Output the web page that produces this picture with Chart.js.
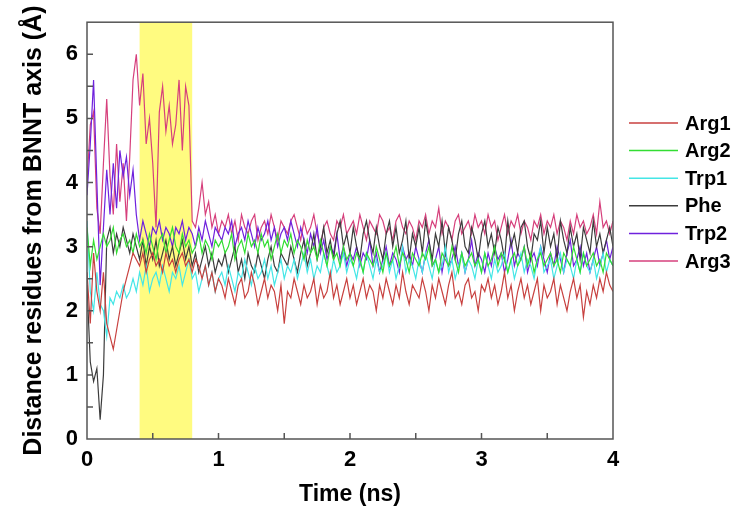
<!DOCTYPE html>
<html lang="en">
<head>
    <meta charset="UTF-8">
    <title>Distance residues from BNNT axis</title>
    <script src="https://cdn.jsdelivr.net/npm/chart.js@4.4.1/dist/chart.umd.min.js"></script>
    <style>
        html, body {
            margin: 0;
            padding: 0;
            background: #ffffff;
        }
        #wrap {
            width: 735px;
            height: 508px;
        }
    </style>
</head>
<body>
    <div id="wrap">
        <canvas id="distance-chart" width="735" height="508"></canvas>
    </div>

    <script>
        // sampling of the trajectory (ns)
        const timeStepNs = 0.025;
        const bandStart = 0.4;
        const bandEnd = 0.8;

        const seriesNames = ['Arg1', 'Arg2', 'Trp1', 'Phe', 'Trp2', 'Arg3'];
        const seriesColors = ['#c8413f', '#33dd33', '#44e6e6', '#3c3c3c', '#6f22dd', '#d6407c'];
        const xTicks = [0, 1, 2, 3, 4];
        const yTicks = [0, 1, 2, 3, 4, 5, 6];

        const arg1 = [
            2.6, 1.8, 2.9, 2.3, 2.0, 2.6, 1.8, 1.6, 1.4, 1.7, 2.0, 2.3, 2.5, 2.7, 2.9, 2.8, 2.7, 2.9, 2.6, 2.8,
            2.9, 2.7, 2.8, 2.6, 2.9, 2.7, 2.8, 2.6, 2.8, 2.9, 2.7, 2.8, 2.6, 2.8, 2.7, 2.5, 2.7, 2.4, 2.6, 2.3,
            2.5,
            2.4, 2.2, 2.5, 2.3, 2.1, 2.4, 2.5, 2.2, 2.3, 2.6, 2.4, 2.1, 2.3, 2.5, 2.2, 2.4, 2.3, 2.0, 2.4, 1.8,
            2.3, 2.2, 2.5, 2.3, 2.1, 2.4, 2.2, 2.3, 2.5, 2.1, 2.4, 2.2, 2.3, 2.6, 2.2, 2.4, 2.1, 2.3, 2.5, 2.2,
            2.4, 2.1, 2.3, 2.5, 2.2, 2.4, 2.3, 2.0, 2.4, 2.2, 2.5, 2.3, 2.1, 2.4, 2.2, 2.6, 2.3, 2.1, 2.4, 2.3,
            2.2, 2.5, 2.3, 2.0, 2.4, 2.2, 2.5, 2.3, 2.1, 2.4, 2.6, 2.2, 2.3, 2.1, 2.4, 2.5, 2.2, 2.3, 2.0, 2.4,
            2.3, 2.5, 2.2, 2.4, 2.1, 2.3, 2.6, 2.2, 2.4, 2.0, 2.3, 2.5, 2.2, 2.4, 2.1, 2.3, 2.5, 2.0, 2.4, 2.2,
            2.3, 2.5, 2.1, 2.4, 2.2, 2.0, 2.3, 2.5, 2.2, 2.4, 1.9, 2.3, 2.1, 2.4, 2.2, 2.5, 2.3, 2.6, 2.4, 2.3
        ];
        const arg2 = [
            3.3, 2.7, 3.1, 2.8, 3.0, 3.2, 3.0, 3.1, 3.3, 2.9, 3.1, 3.2, 3.0, 3.1, 2.9, 3.2, 3.0, 3.1, 2.9, 3.2,
            3.0, 2.8, 3.1, 3.2, 2.9, 3.1, 3.3, 3.0, 2.9, 3.2, 3.0, 3.1, 2.9, 3.0, 3.2, 2.9, 3.1, 3.0, 2.8, 3.1,
            3.0,
            3.1, 2.9, 3.0, 3.2, 2.8, 3.0, 3.1, 2.9, 3.2, 3.0, 3.1, 2.9, 3.2, 3.0, 3.1, 2.8, 3.0, 3.2, 2.9, 3.1,
            3.0, 3.2, 2.9, 3.1, 3.0, 2.8, 3.1, 2.9, 3.0, 2.8, 3.1, 2.9, 2.7, 3.0, 2.8, 2.9, 2.7, 3.0, 2.8, 2.9,
            2.7, 2.9, 2.8, 2.6, 2.9, 2.8, 2.7, 3.0, 2.8, 2.6, 2.9, 2.7, 2.8, 3.0, 2.7, 2.9, 2.8, 2.6, 2.9, 2.8,
            2.7, 2.9, 2.8, 3.0, 2.7, 2.8, 2.6, 2.9, 2.8, 2.7, 3.0, 2.8, 2.6, 2.9, 2.7, 2.8, 2.9, 2.7, 2.8, 2.6,
            2.9, 2.7, 2.8, 3.0, 2.7, 2.9, 2.8, 2.6, 2.8, 2.9, 2.7, 2.8, 3.0, 2.7, 2.9, 2.6, 2.8, 2.9, 2.7, 2.8,
            2.9, 2.7, 2.8, 2.6, 2.9, 2.8, 2.7, 3.0, 2.8, 2.6, 2.9, 2.7, 2.8, 2.9, 2.7, 2.8, 2.6, 2.9, 2.8, 2.7
        ];
        const trp1 = [
            3.4, 2.3, 2.0, 2.6, 2.1, 2.0, 1.6, 2.2, 2.1, 2.3, 2.2, 2.4, 2.2, 2.3, 2.5, 2.3, 2.6, 2.4, 2.7, 2.3,
            2.5, 2.6, 2.4, 2.7, 2.5, 2.3, 2.6, 2.5, 2.7, 2.4, 2.6, 2.8, 2.5, 2.6, 2.3, 2.5, 2.7, 2.4, 2.6, 2.3,
            2.5,
            2.6, 2.4, 2.7, 2.5, 2.3, 2.6, 2.5, 2.8, 2.6, 2.4, 2.7, 2.5, 2.6, 2.8, 2.5, 2.7, 2.4, 2.6, 2.8, 2.5,
            2.7, 2.6, 2.8, 2.5, 2.7, 2.9, 2.6, 2.8, 2.5, 2.7, 2.6, 2.9, 2.7, 2.5, 2.8, 2.6, 2.7, 2.9, 2.6, 2.8,
            2.7, 2.5, 2.8, 2.6, 2.9, 2.7, 2.5, 2.8, 2.6, 2.7, 2.9, 2.6, 2.8, 2.5, 2.7, 3.0, 2.6, 2.8, 2.7, 2.5,
            2.8, 2.6, 2.9, 2.7, 2.5, 2.8, 2.6, 2.7, 3.0, 2.6, 2.8, 2.5, 2.7, 2.9, 2.6, 2.8, 2.7, 2.5, 2.8, 2.6,
            2.9, 2.7, 2.5, 2.8, 2.6, 2.7, 2.9, 2.6, 2.8, 2.5, 2.7, 2.9, 2.6, 2.8, 2.7, 2.5, 2.8, 3.0, 2.6, 2.7,
            2.8, 2.5, 2.7, 2.9, 2.6, 2.8, 2.7, 2.5, 2.8, 2.6, 2.9, 2.7, 2.6, 2.8, 2.5, 2.7, 2.9, 2.6, 2.8, 2.7
        ];
        const phe = [
            2.4, 1.2, 0.9, 1.1, 0.3, 1.0, 3.1, 3.3, 2.9, 3.2, 3.0, 3.3, 3.1, 2.9, 3.2, 3.0, 2.8, 3.1, 2.7, 3.0,
            2.8, 3.1, 2.7, 2.9, 3.1, 2.8, 3.0, 2.7, 2.9, 3.1, 2.8, 3.0, 2.7, 2.9, 2.6, 2.8, 3.0, 2.7, 2.9, 2.6,
            2.8,
            2.7, 2.9, 2.6, 2.8, 3.0, 2.6, 2.8, 2.5, 2.9, 2.7, 2.6, 2.9, 2.7, 2.5, 2.8, 3.0, 2.7, 2.6, 2.9, 2.8,
            2.7, 3.0, 2.8, 2.6, 2.9, 3.1, 2.7, 2.9, 3.2, 2.8, 3.0, 3.3, 2.9, 3.1, 2.8, 3.2, 3.4, 3.0, 3.2, 2.9,
            3.3, 3.0, 2.8, 3.2, 3.4, 3.1, 2.9, 3.3, 3.0, 2.8, 3.2, 3.4, 3.0, 3.3, 2.9, 3.1, 3.4, 2.8, 3.2, 3.0,
            3.3, 2.9, 3.4, 3.1, 2.8, 3.2, 3.0, 3.4, 2.9, 3.3, 3.1, 2.8, 3.2, 3.4, 3.0, 2.9, 3.3, 3.1, 2.8, 3.2,
            3.4, 3.0, 3.2, 2.9, 3.3, 3.1, 2.8, 3.4, 3.0, 3.2, 2.9, 3.3, 3.4, 3.0, 2.8, 3.2, 3.1, 3.4, 2.9, 3.3,
            3.0, 3.2, 2.8, 3.4, 3.1, 2.9, 3.3, 3.0, 3.2, 2.8, 3.3, 3.1, 2.9, 3.4, 3.0, 3.2, 2.9, 3.1, 3.3, 3.0
        ];
        const trp2 = [
            3.8, 4.6, 5.6, 4.0, 2.4, 3.3, 4.2, 3.5, 4.3, 3.6, 4.5, 4.1, 4.4, 3.8, 4.2, 3.5, 3.1, 3.4, 3.2, 3.0,
            3.3, 3.2, 3.4, 3.1, 3.3, 3.2, 3.0, 3.3, 3.2, 3.4, 3.1, 3.3, 3.2, 3.0, 3.3, 3.1, 3.4, 3.2, 3.0, 3.3,
            3.2,
            3.1, 3.3, 3.2, 3.4, 3.0, 3.2, 3.3, 3.1, 3.4, 3.2, 3.0, 3.3, 3.1, 3.2, 3.4, 3.1, 3.3, 3.0, 3.2, 3.3,
            3.1, 3.4, 3.2, 3.0, 3.3, 3.1, 2.9, 3.2, 3.0, 3.3, 2.9, 3.1, 2.8, 3.0, 2.9, 3.2, 2.8, 3.0, 2.7, 2.9,
            2.8, 3.0, 2.7, 2.9, 2.8, 3.1, 2.7, 2.9, 2.6, 2.8, 3.0, 2.7, 2.9, 2.8, 2.6, 3.0, 2.8, 2.9, 2.7, 3.0,
            2.8, 2.6, 2.9, 3.1, 2.7, 2.8, 3.0, 2.6, 2.9, 2.7, 2.8, 3.0, 2.7, 2.9, 2.6, 2.8, 3.1, 2.7, 2.9, 2.8,
            2.6, 2.9, 2.7, 3.0, 2.8, 2.9, 2.6, 2.8, 3.1, 2.7, 2.9, 2.8, 3.0, 2.6, 2.8, 2.9, 2.7, 3.0, 2.8, 2.6,
            2.9, 2.7, 3.0, 2.8, 2.6, 2.9, 3.1, 2.7, 2.8, 3.0, 2.7, 2.9, 2.6, 2.8, 3.0, 2.7, 2.9, 3.1, 2.8, 3.0
        ];
        const arg3 = [
            4.0, 4.9, 5.1, 3.6, 3.2, 4.3, 5.3, 4.1, 3.5, 4.6, 3.7, 4.3, 3.4, 4.4, 5.6, 6.0, 5.2, 5.7, 4.6, 5.0,
            4.3, 3.3, 5.1, 5.5, 4.8, 5.2, 4.6, 4.9, 5.6, 4.5, 5.5, 5.2, 3.4, 3.3, 3.6, 4.0, 3.5, 3.7, 3.3, 3.5,
            3.2,
            3.4, 3.3, 3.5, 3.2, 3.4, 3.1, 3.5, 3.3, 3.2, 3.4, 3.5, 3.1, 3.3, 3.4, 3.2, 3.5, 3.3, 3.1, 3.4, 3.3,
            3.2, 3.4, 3.5, 3.3, 3.1, 3.4, 3.2, 3.3, 3.5, 3.2, 3.0, 3.3, 3.4, 3.2, 3.1, 3.4, 3.3, 3.5, 3.2, 3.3,
            3.4, 3.2, 3.5, 3.3, 3.1, 3.4, 3.3, 3.2, 3.5, 3.4, 3.2, 3.3, 3.1, 3.4, 3.5, 3.3, 3.2, 3.4, 3.3, 3.1,
            3.4, 3.3, 3.5, 3.2, 3.4, 3.3, 3.6, 3.2, 3.4, 3.3, 3.1, 3.4, 3.5, 3.2, 3.3, 3.4, 3.2, 3.5, 3.3, 3.4,
            3.2, 3.5, 3.3, 3.4, 3.1, 3.3, 3.5, 3.2, 3.4, 3.3, 3.5, 3.2, 3.4, 3.3, 3.1, 3.4, 3.3, 3.5, 3.2, 3.4,
            3.3, 3.5, 3.2, 3.4, 3.3, 3.1, 3.4, 3.2, 3.5, 3.3, 3.4, 3.2, 3.3, 3.5, 3.2, 3.7, 3.3, 3.4, 3.2, 3.4
        ];

        const seriesValues = [arg1, arg2, trp1, phe, trp2, arg3];

        function toPoints(values) {
            return values.map((v, i) => ({ x: i * timeStepNs, y: v }));
        }

        // yellow highlight between bandStart and bandEnd
        const bandPlugin = {
            id: 'band',
            beforeDatasetsDraw(chart) {
                const { ctx, chartArea, scales } = chart;
                const x1 = scales.x.getPixelForValue(bandStart);
                const x2 = scales.x.getPixelForValue(bandEnd);
                ctx.save();
                ctx.fillStyle = '#fffb80';
                ctx.fillRect(x1, chartArea.top, x2 - x1, chartArea.bottom - chartArea.top);
                ctx.restore();
            }
        };

        // box frame plus inward ticks every 0.5
        const framePlugin = {
            id: 'frame',
            afterDatasetsDraw(chart) {
                const { ctx, chartArea, scales } = chart;
                ctx.save();
                ctx.strokeStyle = '#555555';
                ctx.lineWidth = 1.5;
                ctx.strokeRect(chartArea.left, chartArea.top, chartArea.right - chartArea.left, chartArea.bottom - chartArea.top);
                ctx.beginPath();
                for (let v = 0.5; v < scales.x.max; v += 0.5) {
                    const px = scales.x.getPixelForValue(v);
                    ctx.moveTo(px, chartArea.bottom);
                    ctx.lineTo(px, chartArea.bottom - 6);
                }
                for (let v = 0.5; v < scales.y.max; v += 0.5) {
                    const py = scales.y.getPixelForValue(v);
                    ctx.moveTo(chartArea.left, py);
                    ctx.lineTo(chartArea.left + 6, py);
                }
                ctx.stroke();
                ctx.restore();
            }
        };

        const legendPlugin = {
            id: 'sideLegend',
            afterDraw(chart) {
                const { ctx } = chart;
                ctx.save();
                ctx.font = 'bold 20px "Liberation Sans", Arial, sans-serif';
                ctx.textBaseline = 'middle';
                ctx.fillStyle = '#000000';
                chart.data.datasets.forEach((ds, i) => {
                    const y = 123 + i * 27.6;
                    ctx.strokeStyle = ds.borderColor;
                    ctx.lineWidth = 1.5;
                    ctx.beginPath();
                    ctx.moveTo(629, y);
                    ctx.lineTo(678, y);
                    ctx.stroke();
                    ctx.fillText(ds.label, 685, y + 1);
                });
                ctx.restore();
            }
        };

        const tickFont = { family: '"Liberation Sans", Arial, sans-serif', size: 22, weight: 'bold' };

        new Chart(document.getElementById('distance-chart'), {
            type: 'line',
            data: {
                datasets: seriesNames.map((name, i) => ({
                    label: name,
                    data: toPoints(seriesValues[i]),
                    borderColor: seriesColors[i],
                    borderWidth: 1.2,
                    pointRadius: 0,
                    tension: 0,
                    fill: false
                }))
            },
            options: {
                responsive: false,
                animation: false,
                layout: { padding: { left: 0, top: 18.5, right: 122, bottom: 0 } },
                plugins: {
                    legend: { display: false },
                    tooltip: { enabled: false }
                },
                scales: {
                    x: {
                        type: 'linear',
                        min: 0,
                        max: 4,
                        afterFit: s => { s.height = 69; },
                        afterBuildTicks: s => { s.ticks = xTicks.map(v => ({ value: v })); },
                        grid: { display: false, drawTicks: false },
                        border: { display: false },
                        ticks: { font: tickFont, color: '#000000', padding: 8, maxRotation: 0 },
                        title: {
                            display: true,
                            text: 'Time (ns)',
                            color: '#000000',
                            font: { family: '"Liberation Sans", Arial, sans-serif', size: 23, weight: 'bold' },
                            padding: { top: 0, bottom: 0 }
                        }
                    },
                    y: {
                        min: 0,
                        max: 6.5,
                        afterFit: s => { s.width = 87; },
                        afterBuildTicks: s => { s.ticks = yTicks.map(v => ({ value: v })); },
                        grid: { display: false, drawTicks: false },
                        border: { display: false },
                        ticks: { font: tickFont, color: '#000000', padding: 9 },
                        title: {
                            display: true,
                            text: 'Distance residues from BNNT axis (Å)',
                            color: '#000000',
                            font: { family: '"Liberation Sans", Arial, sans-serif', size: 25, weight: 'bold' },
                            padding: { top: 19, bottom: 0 }
                        }
                    }
                }
            },
            plugins: [bandPlugin, framePlugin, legendPlugin]
        });
    </script>
</body>
</html>
